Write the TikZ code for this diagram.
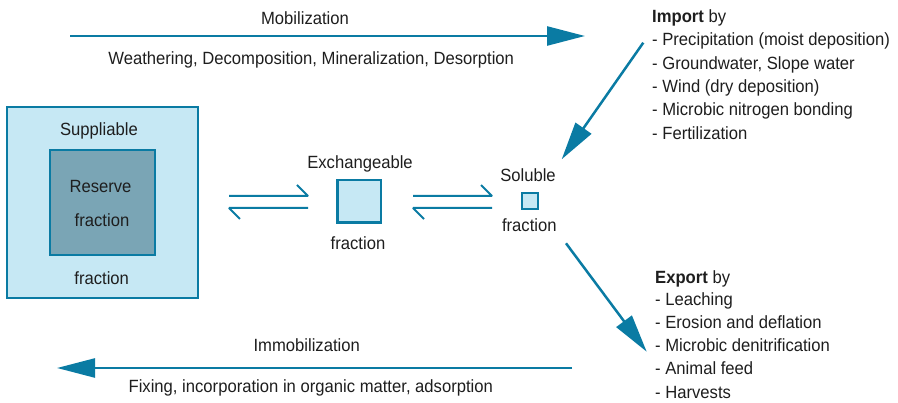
\documentclass[tikz,border=0pt]{standalone}
\usepackage{fontspec}
\setmainfont{Liberation Sans}[FakeStretch=0.94]
\usetikzlibrary{arrows.meta}
\definecolor{lineblue}{RGB}{10,123,163}
\definecolor{lightfill}{RGB}{198,232,244}
\definecolor{darkfill}{RGB}{122,165,181}
\definecolor{txtc}{RGB}{30,30,30}
\begin{document}
\begin{tikzpicture}[x=1pt,y=-1pt,
  lbl/.style={inner sep=0pt, anchor=base, text=txtc, font=\fontsize{17.7}{23.3}\selectfont},
  lst/.style={lbl, anchor=base west},
  bigarrow/.style={draw=lineblue, line width=2.5pt, -{Triangle[length=38pt,width=19pt]}},
  harp/.style={draw=lineblue, line width=2pt, line join=bevel},
  box/.style={draw=lineblue, line width=2pt, inner sep=0pt}]
\useasboundingbox (0,0) rectangle (898,403);

% boxes
\node[box, fill=lightfill, minimum width=191pt, minimum height=191pt] (sup) at (102.5,202.5) {};
\node[box, fill=darkfill, minimum width=104.7pt, minimum height=104.5pt] (res) at (102.3,202.5) {};
\node[box, line width=2.5pt, fill=lightfill, minimum width=43.5pt, minimum height=42.5pt] (exch) at (359.3,201.5) {};
\node[box, fill=lightfill, minimum size=16pt] (sol) at (530,201.5) {};

% box labels
\node[lbl] (tsup) at (99,136) {Suppliable};
\node[lbl] (tres1) at (100.5,192.7) {Reserve};
\node[lbl] (tres2) at (102,226.7) {fraction};
\node[lbl] (tsup2) at (101.7,285) {fraction};
\node[lbl] (texch1) at (360,168.3) {Exchangeable};
\node[lbl] (texch2) at (358,250) {fraction};
\node[lbl] (tsol1) at (528,181.7) {Soluble};
\node[lbl] (tsol2) at (529.3,231.7) {fraction};

% top / bottom flows
\node[lbl] (tmob) at (305,25) {Mobilization};
\node[lbl] (tweath) at (311.2,65) {Weathering, Decomposition, Mineralization, Desorption};
\node[lbl] (timm) at (306.7,352) {Immobilization};
\node[lbl] (tfix) at (310.8,393) {Fixing, incorporation in organic matter, adsorption};

\coordinate (mobS) at (70,36);
\coordinate (mobE) at (585,36);
\draw[bigarrow] (mobS) -- (mobE);
\coordinate (immS) at (572,368);
\coordinate (immE) at (57,368);
\draw[bigarrow] (immS) -- (immE);

% import list
\node[lst] (imp0) at (652,22.7) {\textbf{Import} by};
\node[lst] (imp1) at (652,46) {- Precipitation (moist deposition)};
\node[lst] (imp2) at (652,69.3) {- Groundwater, Slope water};
\node[lst] (imp3) at (652,92.6) {- Wind (dry deposition)};
\node[lst] (imp4) at (652,116) {- Microbic nitrogen bonding};
\node[lst] (imp5) at (652,139.3) {- Fertilization};

% export list
\node[lst] (exp0) at (655,283.3) {\textbf{Export} by};
\node[lst] (exp1) at (655,306) {- Leaching};
\node[lst] (exp2) at (655,329) {- Erosion and deflation};
\node[lst] (exp3) at (655,351.7) {- Microbic denitrification};
\node[lst] (exp4) at (655,375) {- Animal feed};
\node[lst] (exp5) at (655,398.3) {- Harvests};

\coordinate (impS) at (643.3,42.7);
\coordinate (impE) at (561.7,159.3);
\draw[bigarrow] (impS) -- (impE);
\coordinate (expS) at (566,243.3);
\coordinate (expE) at (646.7,351.7);
\draw[bigarrow] (expS) -- (expE);

% equilibrium harpoons
\coordinate (h1a) at (229,196); \coordinate (h1b) at (308,196); \coordinate (h1c) at (297,185);
\coordinate (h2a) at (308,208); \coordinate (h2b) at (229,208); \coordinate (h2c) at (240,219);
\draw[harp] (h1a) -- (h1b) -- (h1c);
\draw[harp] (h2a) -- (h2b) -- (h2c);
\coordinate (h3a) at (413,196); \coordinate (h3b) at (492,196); \coordinate (h3c) at (481,185);
\coordinate (h4a) at (492,208); \coordinate (h4b) at (413,208); \coordinate (h4c) at (424,219);
\draw[harp] (h3a) -- (h3b) -- (h3c);
\draw[harp] (h4a) -- (h4b) -- (h4c);
\end{tikzpicture}
\end{document}
